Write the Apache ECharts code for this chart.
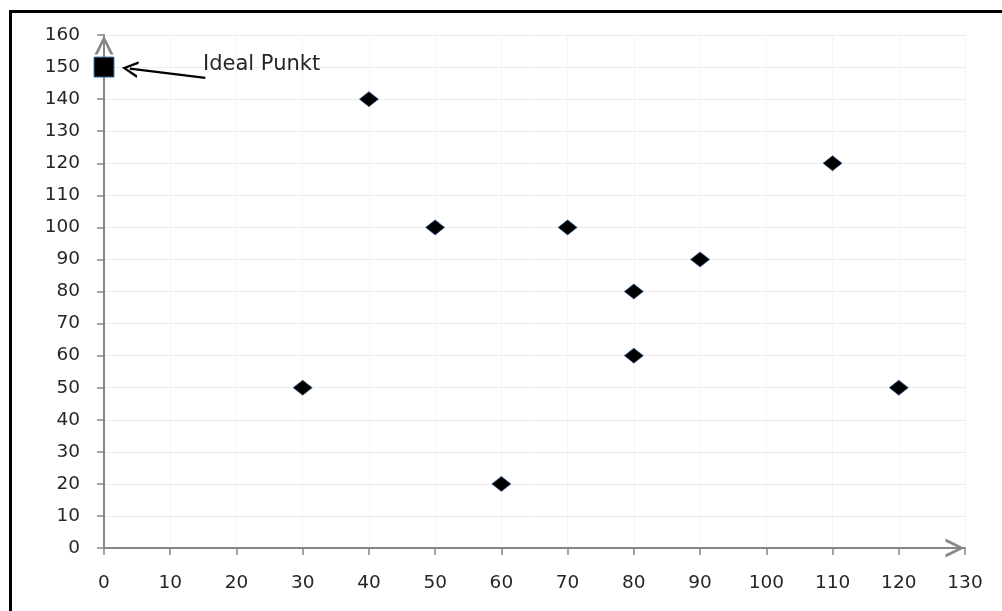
<!DOCTYPE html>
<html>
<head>
<meta charset="utf-8">
<script src="https://cdn.jsdelivr.net/npm/echarts@6/dist/echarts.min.js"></script>
<style>
html,body{margin:0;padding:0;background:#fff;}
#chart{width:1002px;height:611px;}
</style>
</head>
<body>
<div id="chart"></div>
<script>
var xValues = [30, 40, 50, 60, 70, 80, 80, 90, 110, 120];
var yValues = [50, 140, 100, 20, 100, 80, 60, 90, 120, 50];
var idealPoint = [0, 150];
var idealLabel = 'Ideal Punkt';
var arrowFrom = [15.3, 146.6];
var arrowTo = [3.9, 149.5];

var chevron = 'path://M5,0 L10,10 L8.3,10 L5,3 L1.7,10 L0,10 Z';
var FONT = 'DejaVu Sans';

var chart = echarts.init(document.getElementById('chart'));
var pts = xValues.map(function (x, i) { return [x, yValues[i]]; });

chart.setOption({
  animation: false,
  backgroundColor: '#fff',
  graphic: [{
    type: 'rect',
    shape: { x: 10.5, y: 11.5, width: 1100, height: 700 },
    style: { fill: 'none', stroke: '#000', lineWidth: 3 },
    silent: true
  }],
  grid: { left: 104, right: 37, top: 35, bottom: 63 },
  xAxis: {
    type: 'value', min: 0, max: 130, interval: 10,
    axisLine: { show: true, onZero: false, lineStyle: { color: '#878787', width: 2 },
      symbol: ['none', chevron], symbolSize: [19, 20], symbolOffset: [0, -10] },
    axisTick: { show: true, length: 7, lineStyle: { color: '#878787', width: 1.5 } },
    axisLabel: { color: '#262626', fontSize: 18.5, fontFamily: FONT, margin: 26 },
    splitLine: { show: true, lineStyle: { color: '#ececec', type: 'dotted', width: 1 } }
  },
  yAxis: {
    type: 'value', min: 0, max: 160, interval: 10,
    axisLine: { show: true, onZero: false, lineStyle: { color: '#878787', width: 2 },
      symbol: ['none', chevron], symbolSize: [19, 20], symbolOffset: [0, -10] },
    axisTick: { show: true, length: 7, lineStyle: { color: '#878787', width: 1.5 } },
    axisLabel: { color: '#262626', fontSize: 18.5, fontFamily: FONT, margin: 24 },
    splitLine: { show: true, lineStyle: { color: '#ececec', width: 1 } }
  },
  series: [{
    type: 'scatter',
    data: pts,
    symbol: 'diamond',
    symbolSize: [19, 15],
    itemStyle: { color: '#000', opacity: 1, borderColor: '#3a5f8f', borderWidth: 0.8 },
    z: 3
  }, {
    type: 'scatter',
    data: [idealPoint],
    symbol: 'rect',
    symbolSize: 20,
    itemStyle: { color: '#000', opacity: 1, borderColor: '#4a78b0', borderWidth: 1 },
    z: 4,
    markLine: {
      silent: true,
      symbol: ['none', chevron],
      symbolSize: [17, 16],
      lineStyle: { color: '#000', width: 2.2, type: 'solid', opacity: 1 },
      itemStyle: { color: '#000' },
      label: { show: false },
      data: [[{ coord: arrowFrom }, { coord: arrowTo }]]
    },
    markPoint: {
      silent: true,
      symbol: 'circle', symbolSize: 0,
      data: [{ coord: [14.95, 150.9] }],
      label: { show: true, formatter: idealLabel, position: 'right', distance: 0,
        color: '#262626', fontSize: 21, fontFamily: FONT }
    }
  }]
});
</script>
</body>
</html>
